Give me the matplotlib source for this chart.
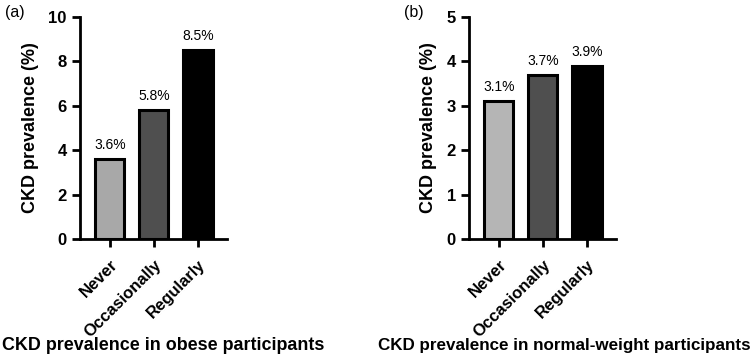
import matplotlib
matplotlib.use("Agg")
import matplotlib.pyplot as plt

plt.rcParams['font.family'] = ['Liberation Sans', 'DejaVu Sans']

categories = ["Never", "Occasionally", "Regularly"]
obese_values = [3.6, 5.8, 8.5]
normal_values = [3.1, 3.7, 3.9]
obese_labels = ["3.6%", "5.8%", "8.5%"]
normal_labels = ["3.1%", "3.7%", "3.9%"]
obese_colors = ["#a8a8a8", "#4f4f4f", "#000000"]
normal_colors = ["#b5b5b5", "#4f4f4f", "#000000"]

fig = plt.figure(figsize=(7.52, 3.64), dpi=100)
ax1 = fig.add_axes([0.1064, 0.3434, 0.1955, 0.6099])
ax2 = fig.add_axes([0.6237, 0.3434, 0.1955, 0.6099])

def draw(ax, vals, labels, colors, ymax, yticks, title, px, tsize):
    x = list(range(len(categories)))
    ax.bar(x, vals, width=0.66, color=colors, edgecolor="black", linewidth=2.2)
    for xi, v, lab in zip(x, vals, labels):
        ax.annotate(lab, (xi, v), xytext=(0, 5), textcoords="offset points",
                    ha="center", va="bottom", fontsize=10)
    ax.set_xlim(-0.68, 2.66)
    ax.set_ylim(0, ymax)
    ax.set_yticks(yticks)
    ax.set_yticklabels([str(t) for t in yticks], fontsize=12, fontweight="bold")
    ax.set_xticks(x)
    ax.set_xticklabels(categories, rotation=45, ha="right", rotation_mode="anchor",
                       fontsize=12, fontweight="bold")
    for s in ["top", "right"]:
        ax.spines[s].set_visible(False)
    for s in ["left", "bottom"]:
        ax.spines[s].set_linewidth(2)
    ax.tick_params(axis="both", width=2, length=6)
    ax.tick_params(axis="x", pad=7)
    ax.set_ylabel("CKD prevalence (%)", fontsize=13, fontweight="bold", labelpad=7)
    fig.text(px, 0.05, title, ha="center", va="center", fontsize=tsize, fontweight="bold")

draw(ax1, obese_values, obese_labels, obese_colors, 10, [0, 2, 4, 6, 8, 10],
     "CKD prevalence in obese participants", 0.217, 12.85)
draw(ax2, normal_values, normal_labels, normal_colors, 5, [0, 1, 2, 3, 4, 5],
     "CKD prevalence in normal-weight participants", 0.750, 12.25)

fig.text(0.006, 0.967, "(a)", fontsize=11.5, va="center", ha="left")
fig.text(0.537, 0.967, "(b)", fontsize=11.5, va="center", ha="left")

fig.savefig("out.png", dpi=100)
